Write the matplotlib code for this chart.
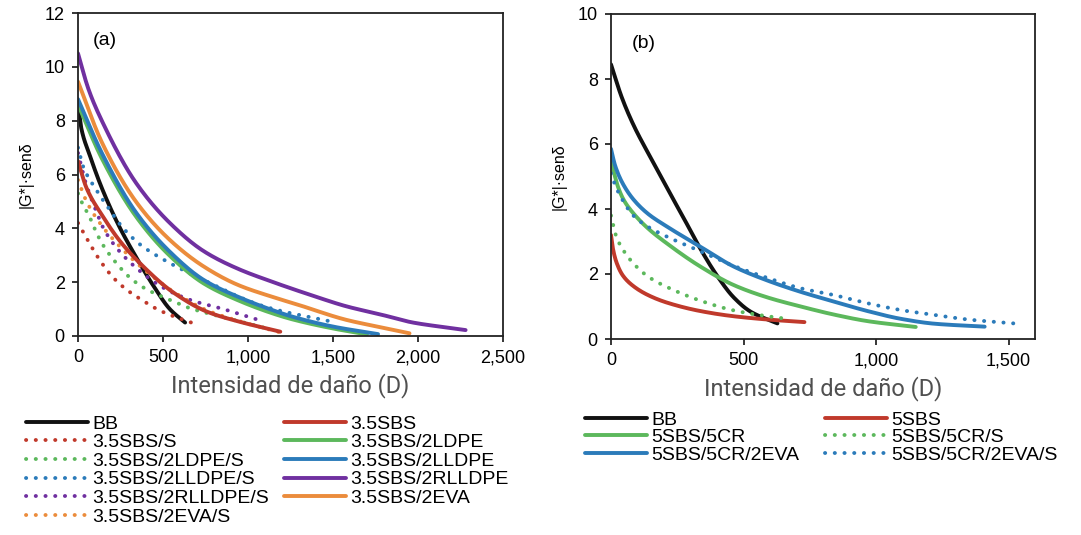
import matplotlib
matplotlib.use("Agg")
import matplotlib.pyplot as plt
import numpy as np

plt.rcParams['font.family'] = ['Liberation Sans', 'DejaVu Sans']

# ---- panel (a) data: damage intensity D vs |G*|·sen delta
bb_a_d = [0, 20, 70, 140, 240, 340, 440, 540, 630]
bb_a_g = [8.6, 7.7, 6.7, 5.5, 4.1, 2.95, 1.9, 1.0, 0.5]

sbs_d = [0, 50, 140, 250, 365, 560, 760, 950, 1190]
sbs_g = [6.5, 5.5, 4.5, 3.5, 2.7, 1.62, 0.9, 0.53, 0.16]
sbs_s_d = [0, 40, 130, 210, 290, 365, 480, 620, 690]
sbs_s_g = [4.2, 3.75, 2.8, 2.15, 1.7, 1.38, 0.95, 0.6, 0.45]

ldpe_d = [0, 140, 340, 540, 740, 940, 1140, 1260, 1500, 1700]
ldpe_g = [8.6, 6.6, 4.45, 2.98, 1.95, 1.33, 0.85, 0.62, 0.28, 0.06]
ldpe_s_d = [0, 20, 70, 100, 150, 220, 300, 385, 540, 660, 855, 1130]
ldpe_s_g = [5.3, 5.0, 4.4, 3.95, 3.35, 2.75, 2.2, 1.8, 1.34, 1.03, 0.7, 0.25]

lldpe_d = [0, 140, 340, 540, 740, 940, 1140, 1260, 1500, 1765]
lldpe_g = [8.8, 6.8, 4.6, 3.13, 2.08, 1.46, 0.97, 0.72, 0.35, 0.07]
lldpe_s_d = [0, 30, 100, 180, 260, 365, 500, 650, 800, 930, 1070, 1200, 1350, 1480]
lldpe_s_g = [7.0, 6.3, 5.5, 4.75, 4.05, 3.4, 2.85, 2.35, 1.9, 1.5, 1.15, 0.92, 0.72, 0.55]

rlldpe_d = [0, 60, 140, 340, 540, 740, 940, 1140, 1380, 1580, 1780, 1970, 2150, 2280]
rlldpe_g = [10.5, 9.2, 8.0, 5.7, 4.2, 3.15, 2.5, 2.02, 1.5, 1.1, 0.8, 0.5, 0.33, 0.22]
rlldpe_s_d = [0, 40, 100, 150, 230, 330, 500, 660, 855, 1050]
rlldpe_s_g = [6.8, 5.8, 4.75, 4.0, 3.25, 2.6, 1.8, 1.34, 1.0, 0.62]

eva_d = [0, 140, 340, 540, 740, 940, 1140, 1300, 1578, 1800, 1950]
eva_g = [9.45, 7.2, 5.0, 3.57, 2.58, 1.9, 1.46, 1.15, 0.6, 0.3, 0.1]
eva_s_d = [0, 50, 140, 250, 365, 560, 760, 950, 1180]
eva_s_g = [5.8, 5.0, 4.1, 3.3, 2.6, 1.65, 0.95, 0.55, 0.15]

# ---- panel (b) data
bb_b_d = [0, 40, 84, 148, 211, 275, 337, 400, 463, 527, 628]
bb_b_g = [8.45, 7.45, 6.6, 5.6, 4.65, 3.71, 2.78, 1.95, 1.28, 0.84, 0.48]
sbs5_d = [0, 8, 21, 45, 84, 140, 211, 337, 463, 590, 730]
sbs5_g = [3.2, 2.75, 2.35, 1.95, 1.63, 1.35, 1.12, 0.86, 0.7, 0.6, 0.52]
cr_d = [0, 15, 30, 50, 84, 140, 211, 337, 463, 590, 716, 842, 968, 1150]
cr_g = [5.5, 5.0, 4.6, 4.25, 3.87, 3.4, 2.94, 2.23, 1.66, 1.28, 1.0, 0.75, 0.55, 0.37]
cr_s_d = [0, 20, 45, 84, 140, 211, 337, 463, 590, 665]
cr_s_g = [3.8, 3.15, 2.75, 2.33, 1.92, 1.6, 1.18, 0.88, 0.7, 0.62]
creva_d = [0, 15, 40, 84, 140, 211, 337, 463, 590, 716, 842, 968, 1094, 1221, 1410]
creva_g = [5.85, 5.35, 4.85, 4.3, 3.85, 3.46, 2.84, 2.23, 1.8, 1.45, 1.15, 0.86, 0.62, 0.47, 0.38]
creva_s_d = [0, 15, 35, 84, 140, 211, 337, 463, 590, 716, 842, 968, 1094, 1221, 1347, 1520]
creva_s_g = [5.1, 4.75, 4.4, 3.8, 3.45, 3.15, 2.7, 2.25, 1.88, 1.56, 1.35, 1.1, 0.89, 0.74, 0.6, 0.48]

xticks_a = [0, 500, 1000, 1500, 2000, 2500]
xticks_b = [0, 500, 1000, 1500]
xlabels_a = ['0', '500', '1,000', '1,500', '2,000', '2,500']
xlabels_b = ['0', '500', '1,000', '1,500']

BLACK = '#111111'
RED = '#c0392b'
GREEN = '#5cb85c'
BLUE = '#2b7bba'
PURPLE = '#7030a0'
ORANGE = '#eb8c3c'
LW = 2.8
DOT = (0, (0.05, 2.45))


def pchip(d, g, n=300):
    # monotone cubic through the read points
    x = np.asarray(d, float)
    y = np.asarray(g, float)
    h = np.diff(x)
    delta = np.diff(y) / h
    m = np.zeros_like(y)
    m[0] = delta[0]
    m[-1] = delta[-1]
    for i in range(1, len(x) - 1):
        if delta[i - 1] * delta[i] <= 0:
            m[i] = 0
        else:
            w1 = 2 * h[i] + h[i - 1]
            w2 = h[i] + 2 * h[i - 1]
            m[i] = (w1 + w2) / (w1 / delta[i - 1] + w2 / delta[i])
    xs = np.linspace(x[0], x[-1], n)
    idx = np.clip(np.searchsorted(x, xs) - 1, 0, len(x) - 2)
    t = (xs - x[idx]) / h[idx]
    h00 = 2 * t**3 - 3 * t**2 + 1
    h10 = t**3 - 2 * t**2 + t
    h01 = -2 * t**3 + 3 * t**2
    h11 = t**3 - t**2
    ys = h00 * y[idx] + h10 * h[idx] * m[idx] + h01 * y[idx + 1] + h11 * h[idx] * m[idx + 1]
    return xs, ys


def curve(ax, d, g, color, label, dotted=False):
    xs, ys = pchip(d, g)
    if dotted:
        ln, = ax.plot(xs, ys, color=color, lw=LW, linestyle=DOT,
                      dash_capstyle='round', label=label)
    else:
        ln, = ax.plot(xs, ys, color=color, lw=LW, solid_capstyle='round', label=label)
    return ln


fig = plt.figure(figsize=(10.81, 5.35), dpi=100)
ax1 = fig.add_axes([78 / 1081, 1 - 336 / 535, 425 / 1081, 323 / 535])
ax2 = fig.add_axes([611 / 1081, 1 - 339 / 535, 424 / 1081, 325 / 535])

# panel (a)
h = {}
h['bb'] = curve(ax1, bb_a_d, bb_a_g, BLACK, 'BB')
h['s'] = curve(ax1, sbs_s_d, sbs_s_g, RED, '3.5SBS/S', True)
h['ldpes'] = curve(ax1, ldpe_s_d, ldpe_s_g, GREEN, '3.5SBS/2LDPE/S', True)
h['lldpes'] = curve(ax1, lldpe_s_d, lldpe_s_g, BLUE, '3.5SBS/2LLDPE/S', True)
h['rlldpes'] = curve(ax1, rlldpe_s_d, rlldpe_s_g, PURPLE, '3.5SBS/2RLLDPE/S', True)
h['evas'] = curve(ax1, eva_s_d, eva_s_g, ORANGE, '3.5SBS/2EVA/S', True)
h['sbs'] = curve(ax1, sbs_d, sbs_g, RED, '3.5SBS')
h['ldpe'] = curve(ax1, ldpe_d, ldpe_g, GREEN, '3.5SBS/2LDPE')
h['lldpe'] = curve(ax1, lldpe_d, lldpe_g, BLUE, '3.5SBS/2LLDPE')
h['rlldpe'] = curve(ax1, rlldpe_d, rlldpe_g, PURPLE, '3.5SBS/2RLLDPE')
h['eva'] = curve(ax1, eva_d, eva_g, ORANGE, '3.5SBS/2EVA')
ax1.set_xlim(0, 2500)
ax1.set_ylim(0, 12)
ax1.set_xticks(xticks_a)
ax1.set_xticklabels(xlabels_a)
ax1.set_yticks(range(0, 13, 2))
ax1.text(0.035, 0.915, '(a)', transform=ax1.transAxes, fontsize=14, va='center')

# panel (b)
hb = {}
hb['bb'] = curve(ax2, bb_b_d, bb_b_g, BLACK, 'BB')
hb['cr'] = curve(ax2, cr_d, cr_g, GREEN, '5SBS/5CR')
hb['creva'] = curve(ax2, creva_d, creva_g, BLUE, '5SBS/5CR/2EVA')
hb['sbs'] = curve(ax2, sbs5_d, sbs5_g, RED, '5SBS')
hb['crs'] = curve(ax2, cr_s_d, cr_s_g, GREEN, '5SBS/5CR/S', True)
hb['crevas'] = curve(ax2, creva_s_d, creva_s_g, BLUE, '5SBS/5CR/2EVA/S', True)
ax2.set_xlim(0, 1600)
ax2.set_ylim(0, 10)
ax2.set_xticks(xticks_b)
ax2.set_xticklabels(xlabels_b)
ax2.set_yticks(range(0, 11, 2))
ax2.text(0.05, 0.91, '(b)', transform=ax2.transAxes, fontsize=14, va='center')

for ax in (ax1, ax2):
    for sp in ax.spines.values():
        sp.set_linewidth(1.3)
        sp.set_color('#222222')
    ax.tick_params(direction='out', length=4.5, width=1.1, labelsize=13, pad=5)
    ax.set_xlabel('Intensidad de daño (D)', family=['Roboto', 'DejaVu Sans'],
                  fontsize=17, color='#505050', labelpad=5)
    ax.set_ylabel('|G*|·senδ', fontsize=11.5, labelpad=8)

order_a = ['bb', 's', 'ldpes', 'lldpes', 'rlldpes', 'evas',
           'sbs', 'ldpe', 'lldpe', 'rlldpe', 'eva']
fig.legend([h[k] for k in order_a], [h[k].get_label() for k in order_a],
           loc='upper left', bbox_to_anchor=(26 / 1081, 1 - 415 / 535), ncol=2,
           frameon=False, fontsize=14, handlelength=3.2, handletextpad=0.22,
           labelspacing=0.05, columnspacing=0.75, borderpad=0, borderaxespad=0)

order_b = ['bb', 'cr', 'creva', 'sbs', 'crs', 'crevas']
fig.legend([hb[k] for k in order_b], [hb[k].get_label() for k in order_b],
           loc='upper left', bbox_to_anchor=(585 / 1081, 1 - 411 / 535), ncol=2,
           frameon=False, fontsize=14, handlelength=3.2, handletextpad=0.22,
           labelspacing=0.0, columnspacing=1.3, borderpad=0, borderaxespad=0)

fig.savefig('out.png', dpi=100)
